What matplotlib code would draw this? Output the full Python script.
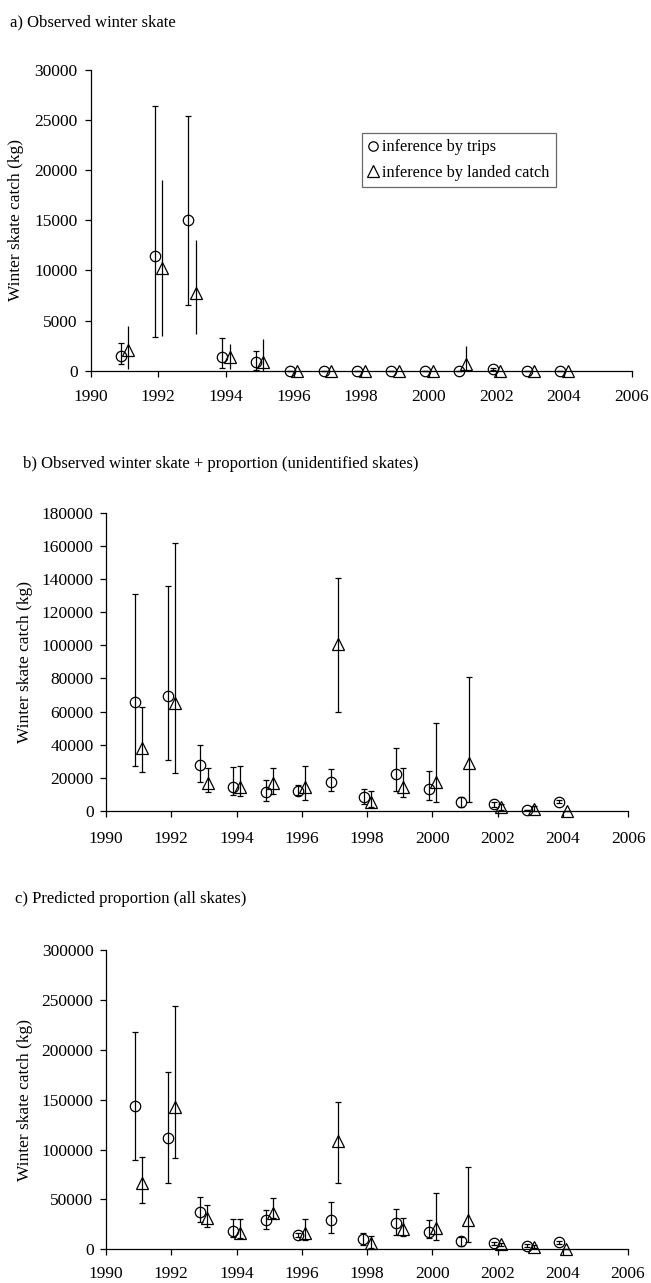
import numpy as np
import matplotlib
matplotlib.use("Agg")
import matplotlib.pyplot as plt

plt.rcParams['font.family'] = ['Liberation Serif', 'DejaVu Serif']

years = [1991, 1992, 1993, 1994, 1995, 1996, 1997, 1998, 1999, 2000, 2001, 2002, 2003, 2004]
xticks = [1990, 1992, 1994, 1996, 1998, 2000, 2002, 2004, 2006]

# Panel a) Observed winter skate
a_trips    = [1450, 11450, 15050, 1400, 900, 0, 0, 0, 0, 0, 0, 200, 0, 0]
a_trips_lo = [700, 3330, 6550, 230, 70, 0, 0, 0, 0, 0, 0, 100, 0, 0]
a_trips_hi = [2730, 26400, 25400, 3300, 2000, 0, 0, 0, 0, 0, 0, 300, 0, 0]
a_land     = [2100, 10200, 7800, 1400, 900, 0, 0, 0, 0, 0, 700, 0, 0, 0]
a_land_lo  = [200, 3460, 3660, 200, 0, 0, 0, 0, 0, 0, 0, 0, 0, 0]
a_land_hi  = [4500, 19000, 13000, 2700, 3200, 0, 0, 0, 0, 0, 2460, 0, 0, 0]

# Panel b) Observed winter skate + proportion (unidentified skates)
b_trips    = [66000, 69400, 27800, 14700, 11500, 12100, 17300, 8200, 22300, 13100, 5200, 4000, 400, 5600]
b_trips_lo = [27200, 30800, 17300, 9700, 6200, 9700, 12100, 4000, 12100, 6600, 2600, 2600, 400, 4800]
b_trips_hi = [130700, 136000, 39800, 26700, 18700, 15700, 25100, 13500, 37800, 24100, 8600, 5600, 400, 6400]
b_land     = [38200, 65400, 17100, 14300, 16700, 14700, 100600, 5600, 14700, 17300, 28800, 2200, 1000, 200]
b_land_lo  = [23300, 22700, 11700, 9100, 10100, 6600, 59900, 2200, 8600, 5200, 5200, 600, 0, 200]
b_land_hi  = [63000, 161500, 25700, 27400, 25700, 27200, 140400, 12100, 25700, 52900, 80700, 4000, 3000, 200]

# Panel c) Predicted proportion (all skates)
c_trips    = [144000, 111300, 37800, 18400, 29400, 14400, 29400, 10400, 26100, 17700, 8400, 6000, 3700, 7000]
c_trips_lo = [89500, 66800, 27700, 12000, 20400, 12500, 16700, 4300, 14400, 11700, 3300, 4500, 2500, 5800]
c_trips_hi = [218200, 178100, 52800, 30400, 39400, 16000, 47800, 16700, 40100, 29100, 12700, 7500, 5000, 8200]
c_land     = [66200, 143000, 31100, 16000, 36100, 16700, 108600, 6000, 20000, 21000, 29400, 5000, 2700, 500]
c_land_lo  = [46800, 91200, 22700, 11000, 31100, 9400, 66200, 1000, 13400, 9400, 7000, 3500, 1500, 500]
c_land_hi  = [92200, 243900, 44100, 30100, 51800, 30100, 148000, 13400, 31100, 56100, 82900, 6500, 4000, 500]

titles = ["a) Observed winter skate",
          "b) Observed winter skate + proportion (unidentified skates)",
          "c) Predicted proportion (all skates)"]
ylabel = "Winter skate catch (kg)"

W, H = 651, 1283
fig = plt.figure(figsize=(W / 100, H / 100), dpi=100)

def frac_rect(l, r, t, b):
    return [l / W, 1 - b / H, (r - l) / W, (b - t) / H]

panels = [
    dict(px=(90.7, 631.7, 70, 370.7), ymax=30000, ystep=5000,
         tr=(a_trips, a_trips_lo, a_trips_hi), la=(a_land, a_land_lo, a_land_hi),
         land_caps=0, title_xy=(10, 26), ylab_right=24, xpad=9.5, ypad=5.5),
    dict(px=(106, 628.3, 512.7, 811), ymax=180000, ystep=20000,
         tr=(b_trips, b_trips_lo, b_trips_hi), la=(b_land, b_land_lo, b_land_hi),
         land_caps=2.5, title_xy=(22.7, 468), ylab_right=33, xpad=10.5, ypad=5),
    dict(px=(106, 628.0, 950, 1249.3), ymax=300000, ystep=50000,
         tr=(c_trips, c_trips_lo, c_trips_hi), la=(c_land, c_land_lo, c_land_hi),
         land_caps=2.5, title_xy=(15, 903), ylab_right=33, xpad=8, ypad=5),
]

off = 0.11
yrs = np.array(years, dtype=float)
for i, p in enumerate(panels):
    l, r, t, b = p['px']
    ax = fig.add_axes(frac_rect(l, r, t, b))
    v, lo, hi = [np.array(s, dtype=float) for s in p['tr']]
    ax.errorbar(yrs - off, v, yerr=[v - lo, hi - v], fmt='o', ms=7.5, mfc='none',
                mec='black', mew=0.9, ecolor='black', elinewidth=0.9,
                capsize=2.5, capthick=0.9, label='inference by trips', zorder=3)
    v, lo, hi = [np.array(s, dtype=float) for s in p['la']]
    ax.errorbar(yrs + off, v, yerr=[v - lo, hi - v], fmt='^', ms=9, mfc='none',
                mec='black', mew=0.9, ecolor='black', elinewidth=0.9,
                capsize=p['land_caps'], capthick=0.9,
                label='inference by landed catch', zorder=3)
    ax.set_xlim(1990, 2006)
    ax.set_ylim(0, p['ymax'])
    ax.set_xticks(xticks)
    ax.set_yticks(np.arange(0, p['ymax'] + 1, p['ystep']))
    ax.spines['top'].set_visible(False)
    ax.spines['right'].set_visible(False)
    for s in ['left', 'bottom']:
        ax.spines[s].set_linewidth(0.9)
    ax.tick_params(direction='out', length=4, width=0.9, labelsize=12.5)
    ax.tick_params(axis='x', pad=p['xpad'])
    ax.tick_params(axis='y', pad=p['ypad'])
    for art in ax.get_children():
        try:
            art.set_clip_on(False)
        except Exception:
            pass
    fig.text(p['title_xy'][0] / W, 1 - p['title_xy'][1] / H, titles[i],
             fontsize=12, ha='left', va='baseline')
    ax.set_ylabel(ylabel, fontsize=12.5)
    ax.yaxis.set_label_coords((p['ylab_right'] - l) / (r - l), 0.5)
    if i == 0:
        handles, labels = ax.get_legend_handles_labels()
        hs = [h[0] for h in handles]
        leg = ax.legend(hs, labels, loc='upper left',
                        bbox_to_anchor=((361.7 - l) / (r - l), (b - 133.3) / (b - t)),
                        fontsize=11.7, frameon=True, fancybox=False,
                        handlelength=0.6, handletextpad=0.3, borderpad=0.37,
                        labelspacing=0.58, borderaxespad=0, markerscale=0.9)
        leg.get_frame().set_edgecolor('#444444')
        leg.get_frame().set_linewidth(0.9)

fig.savefig('out.png', dpi=100)
